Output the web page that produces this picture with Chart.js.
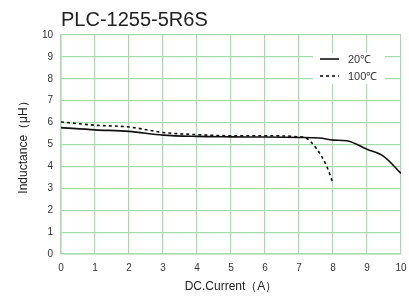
<!DOCTYPE html>
<html>
<head>
<meta charset="utf-8">
<script src="https://cdn.jsdelivr.net/npm/chart.js@4.4.1/dist/chart.umd.min.js"></script>
<style>
  html, body { margin: 0; padding: 0; background: #fff; }
  #wrap { width: 409px; height: 298px; }
</style>
</head>
<body>
<div id="wrap"><canvas id="chart" width="409" height="298"></canvas></div>
<script>
// data
const current20 = [0, 1, 2, 3, 4, 5, 6, 7, 7.6, 8, 8.4, 9, 9.5, 10];
const induct20 = [5.77, 5.67, 5.6, 5.43, 5.37, 5.35, 5.34, 5.32, 5.3, 5.2, 5.17, 4.78, 4.45, 3.68];
const current100 = [0, 1, 2, 3, 4, 5, 6, 7, 7.2, 7.5, 7.8, 8];
const induct100 = [6.03, 5.88, 5.8, 5.55, 5.45, 5.4, 5.4, 5.35, 5.3, 4.84, 4.06, 3.23];
const seriesLabels = ["20℃", "100℃"];

const gridGreen = "#a6dbae";
const textCol = "#333";
const fam = "'Liberation Sans', Arial, sans-serif";

const toPts = (xs, ys) => xs.map((x, i) => ({ x: x, y: ys[i] }));

// legend box drawn inside the plot, top right
const boxLegend = {
  id: "boxLegend",
  afterDatasetsDraw(chart) {
    const { ctx, chartArea } = chart;
    const x0 = chartArea.right - 88, y0 = chartArea.top + 18;
    ctx.save();
    ctx.fillStyle = "#fff";
    ctx.fillRect(x0, y0, 72, 31);
    chart.data.datasets.forEach((ds, i) => {
      const y = y0 + 6 + i * 17;
      ctx.beginPath();
      ctx.setLineDash(ds.borderDash || []);
      ctx.strokeStyle = ds.borderColor;
      ctx.lineWidth = ds.borderWidth;
      ctx.moveTo(x0 + 7, y);
      ctx.lineTo(x0 + 26, y);
      ctx.stroke();
      ctx.setLineDash([]);
      ctx.fillStyle = textCol;
      ctx.font = "11px " + fam;
      ctx.textBaseline = "middle";
      ctx.fillText(ds.label, x0 + 35, y + 0.5);
    });
    ctx.restore();
  }
};

// title left-aligned with plot
const leftTitle = {
  id: "leftTitle",
  afterDraw(chart) {
    const { ctx, chartArea } = chart;
    ctx.save();
    ctx.fillStyle = "#222";
    ctx.font = "20px " + fam;
    ctx.textBaseline = "alphabetic";
    ctx.fillText("PLC-1255-5R6S", chartArea.left, 26);
    ctx.restore();
  }
};

new Chart(document.getElementById("chart"), {
  type: "line",
  data: {
    datasets: [
      {
        label: seriesLabels[0],
        data: toPts(current20, induct20),
        borderColor: "#111",
        borderWidth: 1.6,
        pointRadius: 0,
        fill: false,
        cubicInterpolationMode: "monotone"
      },
      {
        label: seriesLabels[1],
        data: toPts(current100, induct100),
        borderColor: "#111",
        borderWidth: 1.6,
        borderDash: [3, 3],
        pointRadius: 0,
        fill: false,
        cubicInterpolationMode: "monotone"
      }
    ]
  },
  options: {
    responsive: false,
    animation: false,
    layout: { padding: { top: 35, right: 8, left: 12, bottom: 0 } },
    plugins: {
      legend: { display: false },
      title: { display: false },
      tooltip: { enabled: false }
    },
    scales: {
      x: {
        type: "linear",
        min: 0, max: 10,
        ticks: { stepSize: 1, color: textCol, padding: 8, font: { size: 10, family: fam } },
        grid: { color: gridGreen, lineWidth: 1.2, drawTicks: false },
        border: { color: gridGreen, width: 1.5 },
        title: { display: true, text: "DC.Current（A）", color: "#222", padding: { top: 5 }, font: { size: 12, family: fam } },
        afterFit(s) { s.height = 44; s.paddingLeft = 0; s.paddingRight = 0; }
      },
      y: {
        min: 0, max: 10,
        ticks: { stepSize: 1, color: textCol, padding: 8, font: { size: 10, family: fam } },
        grid: { color: gridGreen, lineWidth: 1.2, drawTicks: false },
        border: { color: gridGreen, width: 1.5 },
        title: { display: true, text: "Inductance（μH）", color: "#222", font: { size: 12, family: fam } },
        afterFit(s) { s.width = 49; s.paddingTop = 0; s.paddingBottom = 0; }
      }
    }
  },
  plugins: [boxLegend, leftTitle]
});
</script>
</body>
</html>
